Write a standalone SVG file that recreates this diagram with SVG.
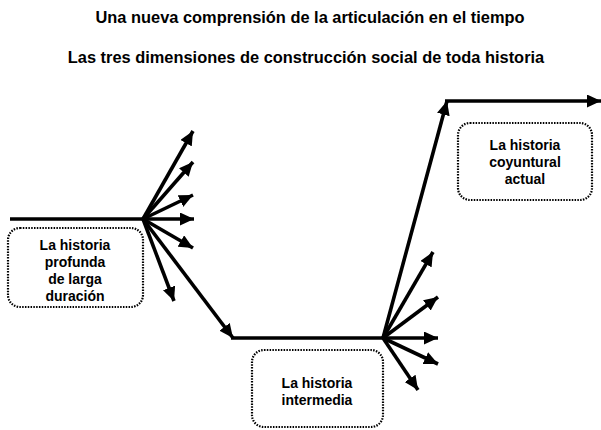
<svg xmlns="http://www.w3.org/2000/svg" width="601" height="430" viewBox="0 0 601 430">
<defs>
<style>
.t{font-family:"Liberation Sans",Arial,sans-serif;font-weight:bold;fill:#000;text-anchor:middle}
.title{font-size:16.4px}
.lbl{font-size:14px}
.box{fill:#fff;stroke:#000;stroke-width:2.2;stroke-dasharray:1.5 1.3}
.ln{stroke:#000;stroke-width:3.6;fill:none;stroke-linecap:butt}
.ar{stroke:#000;stroke-width:3.6;fill:none;marker-end:url(#ah)}
</style>
<marker id="ah" markerUnits="userSpaceOnUse" markerWidth="15" markerHeight="13" refX="14" refY="6.5" orient="auto">
<path d="M0,0 L14,6.5 L0,13 Z" fill="#000"/>
</marker>
</defs>
<text class="t title" x="310" y="23">Una nueva comprensión de la articulación en el tiempo</text>
<text class="t title" x="306" y="63">Las tres dimensiones de construcción social de toda historia</text>
<g id="connectors">
<line class="ln" x1="10" y1="219" x2="144" y2="219"/>
<line class="ar" x1="143" y1="219" x2="193" y2="131"/>
<line class="ar" x1="143" y1="219" x2="193" y2="162"/>
<line class="ar" x1="143" y1="219" x2="193" y2="195"/>
<line class="ar" x1="143" y1="219" x2="194" y2="219"/>
<line class="ar" x1="143" y1="219" x2="193" y2="248"/>
<line class="ar" x1="143" y1="219" x2="174" y2="301"/>
<line class="ar" x1="143" y1="219" x2="233" y2="338"/>
<line class="ln" x1="231" y1="338" x2="384" y2="338"/>
<line class="ar" x1="383" y1="338" x2="433" y2="252"/>
<line class="ar" x1="383" y1="338" x2="438" y2="297"/>
<line class="ar" x1="383" y1="338" x2="438" y2="338"/>
<line class="ar" x1="383" y1="338" x2="438" y2="364"/>
<line class="ar" x1="383" y1="338" x2="418" y2="390"/>
<line class="ar" x1="383" y1="338" x2="447" y2="101"/>
<line class="ar" x1="445" y1="101" x2="601" y2="101"/>
</g>
<g id="node-profunda">
<rect class="box" x="8" y="228" width="135" height="79" rx="12"/>
<text class="t lbl" x="75" y="250">La historia</text>
<text class="t lbl" x="75" y="267">profunda</text>
<text class="t lbl" x="75" y="284">de larga</text>
<text class="t lbl" x="75" y="301">duración</text>
</g>
<g id="node-intermedia">
<rect class="box" x="252" y="350" width="131" height="77" rx="12"/>
<text class="t lbl" x="317" y="388">La historia</text>
<text class="t lbl" x="317" y="405">intermedia</text>
</g>
<g id="node-coyuntural">
<rect class="box" x="458" y="123" width="134" height="77" rx="12"/>
<text class="t lbl" x="525" y="150">La historia</text>
<text class="t lbl" x="525" y="167">coyuntural</text>
<text class="t lbl" x="525" y="184">actual</text>
</g>
</svg>
